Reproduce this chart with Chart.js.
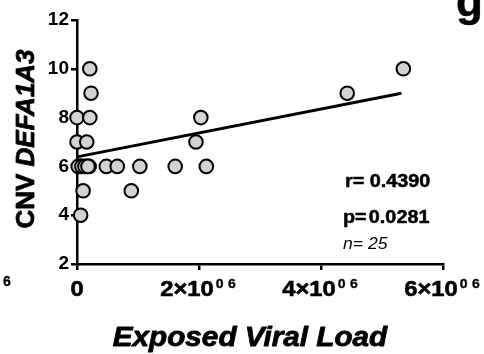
<!DOCTYPE html>
<html>
<head>
<meta charset="utf-8">
<script src="https://cdn.jsdelivr.net/npm/chart.js@4"></script>
<style>
  html, body { margin: 0; padding: 0; background: #fff; }
  canvas { display: block; }
</style>
</head>
<body>
<canvas id="c" width="484" height="354"></canvas>
<script>
// ---- data (x in copies of viral load, y = CNV DEFA1A3) ----
const viralLoad = [0.21e6, 5.35e6, 0.23e6, 4.43e6, 0.00e6, 0.21e6, 2.03e6, 0.00e6, 0.16e6, 1.95e6,
                   0.05e6, 0.16e6, 0.20e6, 0.48e6, 0.66e6, 1.03e6, 1.61e6, 2.12e6, 0.10e6, 0.89e6,
                   0.06e6, 0.02e6, 0.08e6, 0.13e6, 0.18e6];
const cnv       = [10, 10, 9, 9, 8, 8, 8, 7, 7, 7,
                   6, 6, 6, 6, 6, 6, 6, 6, 5, 5,
                   4, 6, 6, 6, 6];
// regression line
const fitX = [0, 5.32e6];
const fitY = [6.39, 9.0];
const xTicks = [0, 2e6, 4e6, 6e6];
const yTicks = [2, 4, 6, 8, 10, 12];
const statR = "0.4390";
const statP = "0.0281";
const statN = "25";

const FONT = "'Liberation Sans', Arial, sans-serif";

const points = viralLoad.map((x, i) => ({ x, y: cnv[i] }));
const fitPts = fitX.map((x, i) => ({ x, y: fitY[i] }));

function txt(ctx, s, x, y, sw) {
  ctx.fillText(s, x, y);
  if (sw) { ctx.lineWidth = sw; ctx.strokeStyle = '#000'; ctx.strokeText(s, x, y); }
}

const overlay = {
  id: 'overlay',
  afterDraw(chart) {
    const ctx = chart.ctx;
    const xs = chart.scales.x;
    ctx.save();
    ctx.fillStyle = '#000';
    ctx.textBaseline = 'alphabetic';
    ctx.lineJoin = 'round';

    // x tick labels with superscripts
    xTicks.forEach(v => {
      const px = xs.getPixelForValue(v);
      const sx = 1.08;
      if (v === 0) {
        ctx.font = `bold 22px ${FONT}`;
        ctx.save(); ctx.translate(px, 296); ctx.scale(sx, 1);
        ctx.textAlign = 'center'; txt(ctx, '0', 0, 0, 0.6); ctx.restore();
        return;
      }
      const main = (v / 1e6) + '×10';
      ctx.font = `bold 22px ${FONT}`;
      const wm = ctx.measureText(main).width;
      ctx.font = `bold 13px ${FONT}`;
      const w0 = ctx.measureText('0').width;
      const w6 = ctx.measureText('6').width;
      const total = wm + 2 + w0 + 4 + w6;
      ctx.save(); ctx.translate(px - 1, 296); ctx.scale(sx, 1);
      ctx.textAlign = 'left';
      let x0 = -total / 2;
      ctx.font = `bold 22px ${FONT}`;
      txt(ctx, main, x0, 0, 0.6);
      ctx.font = `bold 13px ${FONT}`;
      txt(ctx, '0', x0 + wm + 2, -8, 0.3);
      txt(ctx, '6', x0 + wm + 2 + w0 + 4, -8, 0.3);
      ctx.restore();
    });

    // stray fragment at far left
    ctx.font = `bold 14px ${FONT}`;
    ctx.textAlign = 'center';
    txt(ctx, '6', 7, 286, 0.3);

    // y title
    ctx.save();
    ctx.translate(34, 139);
    ctx.rotate(-Math.PI / 2);
    ctx.textAlign = 'left';
    ctx.font = `bold 26px ${FONT}`;
    const a = 'CNV ';
    const wa = ctx.measureText(a).width;
    ctx.font = `italic bold 26px ${FONT}`;
    const b = 'DEFA1A3';
    const wb = ctx.measureText(b).width;
    const st = -(wa + wb) / 2;
    ctx.font = `bold 26px ${FONT}`;
    txt(ctx, a, st, 0, 0.8);
    ctx.font = `italic bold 26px ${FONT}`;
    txt(ctx, b, st + wa, 0, 0.8);
    ctx.restore();

    // x title
    ctx.save();
    ctx.translate(250, 346);
    ctx.scale(1.1, 1);
    ctx.textAlign = 'center';
    ctx.font = `italic bold 27px ${FONT}`;
    txt(ctx, 'Exposed Viral Load', 0, 0, 0.8);
    ctx.restore();

    // stats
    ctx.save();
    ctx.translate(345, 187); ctx.scale(1.1, 1);
    ctx.textAlign = 'left';
    ctx.font = `bold 18px ${FONT}`;
    txt(ctx, 'r=', 0, 0, 0.5);
    const wr = ctx.measureText('r= ').width;
    txt(ctx, statR, wr, 0, 0.5);
    ctx.restore();

    ctx.save();
    ctx.translate(343, 223); ctx.scale(1.1, 1);
    ctx.textAlign = 'left';
    ctx.font = `bold 18px ${FONT}`;
    txt(ctx, 'p=', 0, 0, 0.5);
    const wp = ctx.measureText('p=').width + 2;
    txt(ctx, statP, wp, 0, 0.5);
    ctx.restore();

    ctx.save();
    ctx.translate(343, 249); ctx.scale(1.1, 1);
    ctx.textAlign = 'left';
    ctx.font = `italic 16px ${FONT}`;
    ctx.fillText('n', 0, 0);
    const wn = ctx.measureText('n').width;
    ctx.fillText('= ' + statN, wn, 0);
    ctx.restore();

    // panel letter (cut off at top right)
    ctx.save();
    ctx.textAlign = 'left';
    ctx.font = `bold 44px ${FONT}`;
    txt(ctx, 'g', 456, 16, 0.5);
    ctx.restore();

    ctx.restore();
  }
};

new Chart(document.getElementById('c'), {
  type: 'scatter',
  data: {
    datasets: [
      {
        type: 'line',
        data: fitPts,
        borderColor: '#000',
        borderWidth: 3,
        pointRadius: 0,
        fill: false,
        clip: false,
        order: 2
      },
      {
        data: points,
        backgroundColor: '#d3d3d3',
        borderColor: '#000',
        borderWidth: 2,
        pointRadius: 6.8,
        clip: false,
        order: 1
      }
    ]
  },
  options: {
    responsive: false,
    animation: false,
    devicePixelRatio: 1,
    layout: { padding: { left: 0, right: 41, top: 20, bottom: 0 } },
    plugins: { legend: { display: false }, tooltip: { enabled: false } },
    scales: {
      x: {
        type: 'linear',
        min: 0, max: 6e6,
        afterBuildTicks(scale) { scale.ticks = xTicks.map(v => ({ value: v })); },
        afterFit(scale) { scale.height = 90; },
        ticks: { display: false },
        grid: { drawOnChartArea: false, drawTicks: true, tickLength: 6, color: '#000', lineWidth: 2.5 },
        border: { color: '#000', width: 2.5 }
      },
      y: {
        type: 'linear',
        min: 2, max: 12,
        afterBuildTicks(scale) { scale.ticks = yTicks.map(v => ({ value: v })); },
        afterFit(scale) { scale.width = 77; },
        ticks: { color: '#000', font: { family: FONT, weight: 'bold', size: 19 }, padding: 2 },
        grid: { drawOnChartArea: false, drawTicks: true, tickLength: 6, color: '#000', lineWidth: 2.5 },
        border: { color: '#000', width: 2.5 }
      }
    }
  },
  plugins: [overlay]
});
</script>
</body>
</html>
